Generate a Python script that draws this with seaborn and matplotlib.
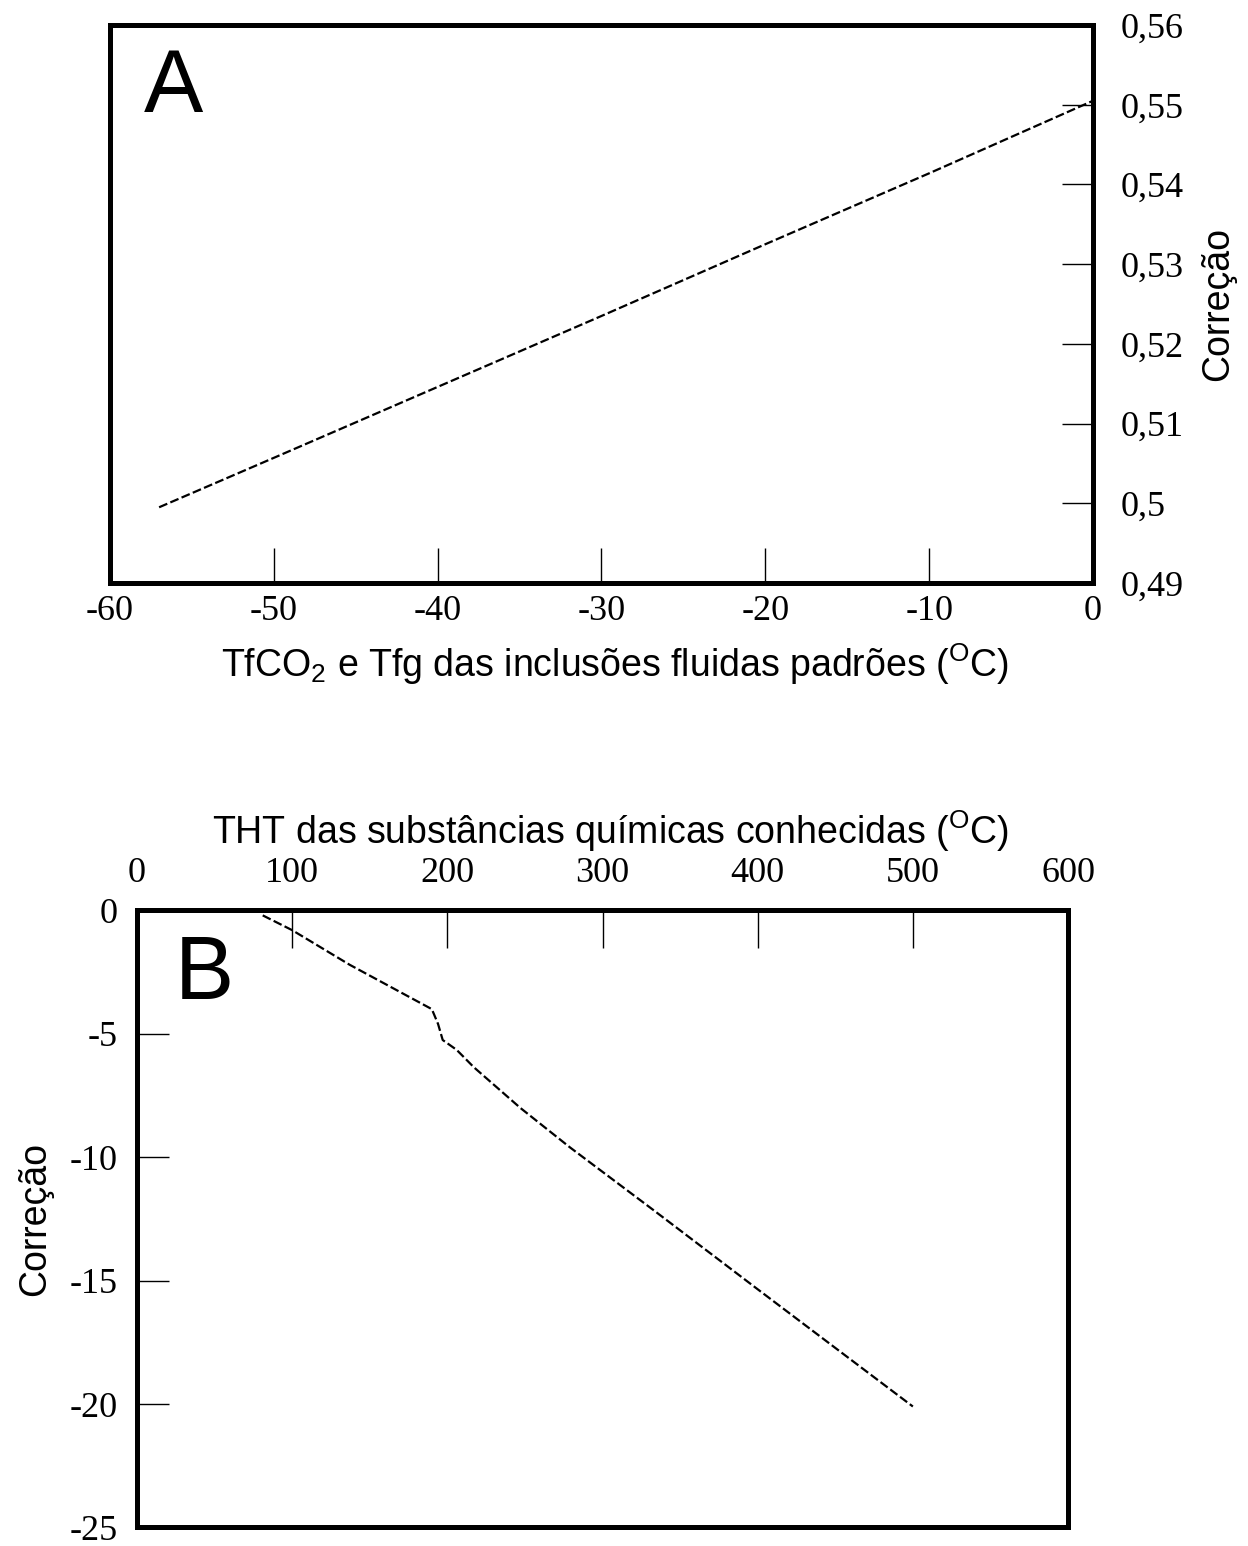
"""
Correção das temperaturas - painéis A e B
"""

import numpy as np
import pandas as pd
import matplotlib
matplotlib.use('Agg')
import matplotlib.pyplot as plt
import seaborn as sns

# --- dados ---
# painel A: TfCO2 / Tfg das inclusões fluidas padrões vs correção
a_temp = [-57, -50, -40, -30, -20, -10, 0]
a_corr = [0.4995, 0.5057, 0.5146, 0.5235, 0.5325, 0.5414, 0.5505]
a_xticks = [-60, -50, -40, -30, -20, -10, 0]
a_yticks = [0.56, 0.55, 0.54, 0.53, 0.52, 0.51, 0.50, 0.49]
a_ylabels = ['0,56', '0,55', '0,54', '0,53', '0,52', '0,51', '0,5', '0,49']

# painel B: THT das substâncias químicas conhecidas vs correção
b_temp = [81, 100, 137, 190, 194, 197, 206, 217, 247, 279, 333, 400, 500]
b_corr = [-0.2, -0.8, -2.2, -4.0, -4.6, -5.25, -5.65, -6.35, -8.0, -9.6, -12.15, -15.35, -20.1]
b_xticks = [0, 100, 200, 300, 400, 500, 600]
b_yticks = [0, -5, -10, -15, -20, -25]

sns.set_style('white')
plt.rcParams['font.family'] = ['Liberation Sans', 'DejaVu Sans']
plt.rcParams['mathtext.fontset'] = 'custom'
plt.rcParams['mathtext.rm'] = 'Liberation Sans'
plt.rcParams['mathtext.it'] = 'Liberation Sans'
plt.rcParams['text.color'] = 'black'
plt.rcParams['axes.labelcolor'] = 'black'
plt.rcParams['xtick.color'] = 'black'
plt.rcParams['ytick.color'] = 'black'

TICK_FONT = {'family': 'Liberation Serif', 'size': 26, 'color': 'black'}
LABEL_SIZE = 27
SPINE_W = 3.6


def style_box(ax):
    for s in ax.spines.values():
        s.set_visible(True)
        s.set_linewidth(SPINE_W)
        s.set_color('black')


fig = plt.figure(figsize=(12.48, 15.46), dpi=100)

# ---------------- painel A ----------------
ax1 = fig.add_axes([0.0881, 0.6229, 0.7877, 0.3609])
df_a = pd.DataFrame({'T': a_temp, 'corr': a_corr})
sns.lineplot(data=df_a, x='T', y='corr', ax=ax1, color='black',
             linewidth=1.6, dashes=False)
ax1.lines[0].set_dashes([4, 1.5])
ax1.set_xlim(-60, 0)
ax1.set_ylim(0.49, 0.56)
style_box(ax1)
ax1.yaxis.tick_right()
ax1.yaxis.set_label_position('right')
ax1.set_xticks(a_xticks)
ax1.set_xticklabels([str(v) for v in a_xticks], fontdict=TICK_FONT)
ax1.set_yticks(a_yticks)
ax1.set_yticklabels(a_ylabels, fontdict=TICK_FONT)
ax1.tick_params(axis='x', direction='in', length=25, width=1, pad=9,
                bottom=True, top=False)
ax1.tick_params(axis='y', direction='in', length=22, width=1, pad=20,
                right=True, left=False)
ax1.set_xlabel(r'TfCO$_{2}$ e Tfg das inclusões fluidas padrões ($^{\mathrm{O}}$C)',
               fontsize=LABEL_SIZE)
ax1.xaxis.set_label_coords(0.514, -0.105)
ax1.set_ylabel('Correção', fontsize=LABEL_SIZE, labelpad=12)
ax1.text(0.034, 0.844, 'A', transform=ax1.transAxes, fontsize=64,
         va='baseline', ha='left')

# ---------------- painel B ----------------
ax2 = fig.add_axes([0.1098, 0.0120, 0.746, 0.3991])
df_b = pd.DataFrame({'T': b_temp, 'corr': b_corr})
sns.lineplot(data=df_b, x='T', y='corr', ax=ax2, color='black',
             linewidth=1.6, dashes=False)
ax2.lines[0].set_dashes([4, 1.5])
ax2.set_xlim(0, 600)
ax2.set_ylim(-25, 0)
style_box(ax2)
ax2.xaxis.tick_top()
ax2.xaxis.set_label_position('top')
ax2.set_xticks(b_xticks)
ax2.set_xticklabels([str(v) for v in b_xticks], fontdict=TICK_FONT)
ax2.set_yticks(b_yticks)
ax2.set_yticklabels([str(v) for v in b_yticks], fontdict=TICK_FONT)
ax2.tick_params(axis='x', direction='in', length=27, width=1, pad=15,
                top=True, bottom=False)
ax2.tick_params(axis='y', direction='in', length=23, width=1, pad=14,
                left=True, right=False)
ax2.set_xlabel('THT das substâncias químicas conhecidas ($^{\\mathrm{O}}$C)',
               fontsize=LABEL_SIZE)
ax2.xaxis.set_label_coords(0.508, 1.108)
ax2.set_ylabel('Correção', fontsize=LABEL_SIZE, labelpad=12)
ax2.text(0.041, 0.856, 'B', transform=ax2.transAxes, fontsize=64,
         va='baseline', ha='left')

fig.savefig('out.png', dpi=100)
